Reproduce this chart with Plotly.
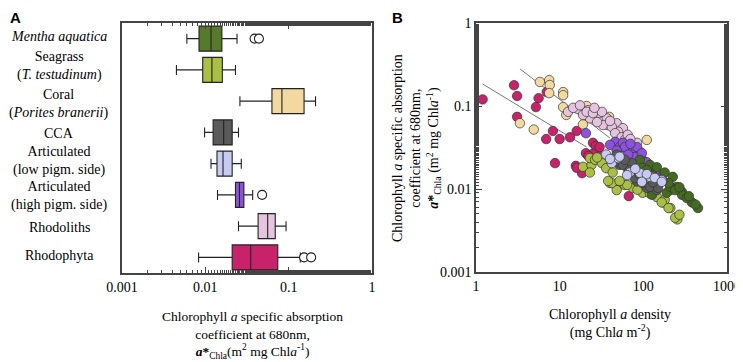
import plotly.graph_objects as go

# ---------------- Panel A: box plots ----------------
categories = ["<i>Mentha aquatica</i>", "Seagrass<br>(<i>T. testudinum</i>)",
              "Coral<br>(<i>Porites branerii</i>)", "CCA",
              "Articulated<br>(low pigm. side)", "Articulated<br>(high pigm. side)",
              "Rhodoliths", "Rhodophyta"]
box_lo = [0.006, 0.0045, 0.026, 0.0098, 0.0117, 0.014, 0.025, 0.0083]
box_q1 = [0.0084, 0.0093, 0.063, 0.0124, 0.0138, 0.023, 0.043, 0.021]
box_med = [0.0117, 0.012, 0.083, 0.0166, 0.0163, 0.0257, 0.056, 0.035]
box_q3 = [0.0158, 0.016, 0.153, 0.021, 0.021, 0.029, 0.069, 0.074]
box_hi = [0.024, 0.023, 0.21, 0.025, 0.027, 0.037, 0.093, 0.138]
outlier_cat = [0, 0, 5, 7, 7]
outlier_val = [0.039, 0.044, 0.048, 0.153, 0.186]
colors = ["#56792b", "#a9bf45", "#f2d9a0", "#5a5a5a", "#c8caf2", "#8c52dd", "#e4c4de", "#c8226a"]
x_ticks_a = [0.001, 0.01, 0.1, 1]
x_ticktext_a = ["0.001", "0.01", "0.1", "1"]

# ---------------- Panel B: scatter ----------------
rhodophyta_x = [1.2, 2.85, 3.1, 5.6, 5.2, 3.1, 8.3, 6.9, 10, 7, 8.8, 16, 15.6, 25, 28, 20.6, 13.3, 27, 25, 18.5, 16, 67, 52, 22, 30]
rhodophyta_y = [0.12, 0.178, 0.132, 0.124, 0.097, 0.074, 0.05, 0.04, 0.04, 0.147, 0.0205, 0.05, 0.019, 0.036, 0.029, 0.027, 0.042, 0.033, 0.0265, 0.0155, 0.018, 0.0082, 0.0112, 0.025, 0.032]
coral_x = [5.8, 7.5, 7.6, 7.5, 11, 3.35, 4.9, 12, 19, 21, 11, 39, 110, 11]
coral_y = [0.195, 0.205, 0.179, 0.143, 0.147, 0.062, 0.052, 0.078, 0.06, 0.1, 0.097, 0.074, 0.039, 0.135]
rhodoliths_x = [12.6, 16.5, 21.8, 23, 30, 36.6, 37.6, 48, 57, 50, 33, 19, 14.5, 17.5, 21, 25, 28, 42, 46, 55, 60, 32, 75, 91, 84, 40, 26, 65, 70]
rhodoliths_y = [0.085, 0.092, 0.089, 0.071, 0.082, 0.071, 0.059, 0.062, 0.054, 0.049, 0.059, 0.078, 0.095, 0.102, 0.085, 0.082, 0.064, 0.056, 0.047, 0.042, 0.039, 0.085, 0.031, 0.028, 0.036, 0.066, 0.095, 0.045, 0.04]
art_high_x = [20.6, 46, 52, 64, 75, 40, 57, 60, 79, 98, 48, 66, 137, 158, 84, 96, 145, 166, 110, 70]
art_high_y = [0.047, 0.037, 0.032, 0.029, 0.026, 0.034, 0.036, 0.032, 0.0243, 0.0224, 0.029, 0.026, 0.0156, 0.0147, 0.032, 0.027, 0.0156, 0.014, 0.021, 0.035]
seagrass_x = [19, 24, 23, 26.5, 23, 32, 40, 48, 36, 42, 38, 60, 75, 98, 137, 170, 210, 250, 255, 43, 64, 145, 180, 166, 200, 240, 270, 28, 52, 85, 120]
seagrass_y = [0.0185, 0.0195, 0.0236, 0.0225, 0.0158, 0.0205, 0.0118, 0.0097, 0.0178, 0.0118, 0.0125, 0.0112, 0.0103, 0.009, 0.0085, 0.0069, 0.0059, 0.0046, 0.0043, 0.0158, 0.0112, 0.008, 0.0074, 0.0069, 0.0059, 0.0045, 0.0049, 0.024, 0.0125, 0.0098, 0.0088]
mentha_x = [91, 98, 120, 145, 180, 225, 250, 210, 290, 190, 210, 290, 380, 450, 240, 330, 145, 127, 110, 160, 200, 270, 350, 420, 130, 170]
mentha_y = [0.0224, 0.018, 0.0195, 0.0183, 0.0158, 0.014, 0.0106, 0.0097, 0.0092, 0.009, 0.0106, 0.0085, 0.0069, 0.0059, 0.0097, 0.0078, 0.0112, 0.0085, 0.0169, 0.013, 0.0118, 0.0105, 0.0082, 0.0065, 0.0145, 0.0125]
cca_x = [48, 52, 66, 84, 110, 145, 73, 46, 57, 69, 98, 120, 150, 79, 60, 90, 130]
cca_y = [0.026, 0.0195, 0.0169, 0.0123, 0.0103, 0.0097, 0.0205, 0.0211, 0.0195, 0.0169, 0.0118, 0.0106, 0.0103, 0.0135, 0.0225, 0.015, 0.012]
art_low_x = [36, 42, 69, 91, 120, 166, 50, 64, 110, 137, 166, 52, 96, 40, 80]
art_low_y = [0.026, 0.0205, 0.0158, 0.0156, 0.014, 0.0128, 0.0235, 0.0147, 0.0151, 0.0136, 0.0122, 0.0245, 0.0122, 0.023, 0.0175]
fit1_x = [1.2, 21]
fit1_y = [0.184, 0.032]
fit2_x = [3.35, 40]
fit2_y = [0.28, 0.041]
x_ticks_b = [1, 10, 100, 1000]
y_ticks_b = [0.001, 0.01, 0.1, 1]
y_ticktext_b = ["0.001", "0.01", "0.1", "1"]

FONT = "'Liberation Serif', 'Times New Roman', Times, 'DejaVu Serif', serif"
AX = "#444444"

# page body has an 8px default margin; size the figure to fit the window
OFF = 8
W, H = 743 - OFF, 362 - OFF


def fx(px):
    return (px - OFF) / W


def fy(py):
    return 1 - (py - OFF) / H


fig = go.Figure()

for i in range(len(categories)):
    fig.add_trace(go.Box(
        y=[i], q1=[box_q1[i]], median=[box_med[i]], q3=[box_q3[i]],
        lowerfence=[box_lo[i]], upperfence=[box_hi[i]],
        orientation="h", fillcolor=colors[i], line=dict(color="#222222", width=1.1),
        width=0.8, whiskerwidth=0.4, boxpoints=False, xaxis="x", yaxis="y"))

fig.add_trace(go.Scatter(x=outlier_val, y=outlier_cat, mode="markers",
                         marker=dict(symbol="circle", size=9, color="white",
                                     line=dict(color="#222222", width=1.1)),
                         xaxis="x", yaxis="y"))

for lx, ly in [(fit1_x, fit1_y), (fit2_x, fit2_y)]:
    fig.add_trace(go.Scatter(x=lx, y=ly, mode="lines", line=dict(color="#777777", width=1),
                             xaxis="x2", yaxis="y2"))

groups = [(rhodophyta_x, rhodophyta_y, colors[7]), (coral_x, coral_y, colors[2]),
          (rhodoliths_x, rhodoliths_y, colors[6]), (art_high_x, art_high_y, colors[5]),
          (seagrass_x, seagrass_y, colors[1]), (mentha_x, mentha_y, "#456a22"),
          (cca_x, cca_y, colors[3]), (art_low_x, art_low_y, colors[4])]
for gx, gy, c in groups:
    fig.add_trace(go.Scatter(x=gx, y=gy, mode="markers",
                             marker=dict(size=9.5, color=c, line=dict(color="#333333", width=0.7)),
                             xaxis="x2", yaxis="y2"))

common = dict(showline=True, linecolor=AX, linewidth=1.5, showgrid=False, zeroline=False,
              tickcolor=AX, tickfont=dict(family=FONT, size=14, color="black"))

fig.update_layout(
    width=W, height=H, margin=dict(l=0, r=0, t=0, b=0, autoexpand=False),
    paper_bgcolor="white", plot_bgcolor="white", showlegend=False,
    font=dict(family=FONT, size=14, color="black"),
    xaxis=dict(domain=[fx(122), fx(372)], type="log", range=[-3, 0], anchor="y",
               tickvals=x_ticks_a, ticktext=x_ticktext_a, ticks="inside", ticklen=6,
               mirror="allticks", minor=dict(ticks="inside", ticklen=3, tickcolor=AX, showgrid=False),
               **common),
    yaxis=dict(domain=[fy(273), fy(23)], range=[7.5, -0.5], anchor="x",
               showticklabels=False, ticks="", mirror=True,
               **{k: v for k, v in common.items() if k != "tickfont"}),
    xaxis2=dict(domain=[fx(476), fx(727)], type="log", range=[0, 3], anchor="y2",
                tickvals=x_ticks_b, ticktext=[str(v) for v in x_ticks_b], ticks="",
                mirror=True, **common),
    yaxis2=dict(domain=[fy(272), fy(23)], type="log", range=[-3, 0], anchor="x2",
                tickvals=y_ticks_b, ticktext=y_ticktext_b, ticks="inside", ticklen=6,
                mirror="allticks", minor=dict(ticks="inside", ticklen=3, tickcolor=AX, showgrid=False),
                **common),
)

label_shift = [2, 4, -3, -1, 3, -1, -1, 2]
ann = []
for i, lab in enumerate(categories):
    ann.append(dict(text=lab, x=fx(59), xref="paper", y=i, yref="y", xanchor="center",
                    yanchor="middle", yshift=label_shift[i], showarrow=False, align="center",
                    font=dict(family=FONT, size=14, color="black")))
ann += [
    dict(text="Chlorophyll <i>a</i> specific absorption<br>coefficient at 680nm,<br>"
              "<b><i>a</i>*</b><sub>Chla</sub>(m<sup>2</sup> mg Chl<i>a</i><sup>-1</sup>)",
         x=fx(252), y=fy(335), xref="paper", yref="paper", xanchor="center", yanchor="middle",
         showarrow=False, align="center", borderpad=0,
         font=dict(family=FONT, size=13.5, color="black")),
    dict(text="Chlorophyll <i>a</i> specific absorption<br>coefficient at 680nm,<br>"
              "<b><i>a</i>*</b><sub>Chla</sub> (m<sup>2</sup> mg Chl<i>a</i><sup>-1</sup>)",
         x=fx(416), y=fy(148), xref="paper", yref="paper", xanchor="center", yanchor="middle",
         textangle=-90, showarrow=False, align="center", font=dict(family=FONT, size=14, color="black")),
    dict(text="Chlorophyll <i>a</i> density<br>(mg Chl<i>a</i> m<sup>-2</sup>)",
         x=fx(610), y=fy(324), xref="paper", yref="paper", xanchor="center", yanchor="middle",
         showarrow=False, align="center", font=dict(family=FONT, size=14, color="black")),
    dict(text="<b>A</b>", x=fx(15), y=1.0, xref="paper", yref="paper", xanchor="center",
         yanchor="top", borderpad=0, showarrow=False,
         font=dict(family="Liberation Sans", size=15, color="black")),
    dict(text="<b>B</b>", x=fx(397), y=1.0, xref="paper", yref="paper", xanchor="center",
         yanchor="top", borderpad=0, showarrow=False,
         font=dict(family="Liberation Sans", size=15, color="black")),
]
fig.update_layout(annotations=ann)

fig.write_html("out.html")
